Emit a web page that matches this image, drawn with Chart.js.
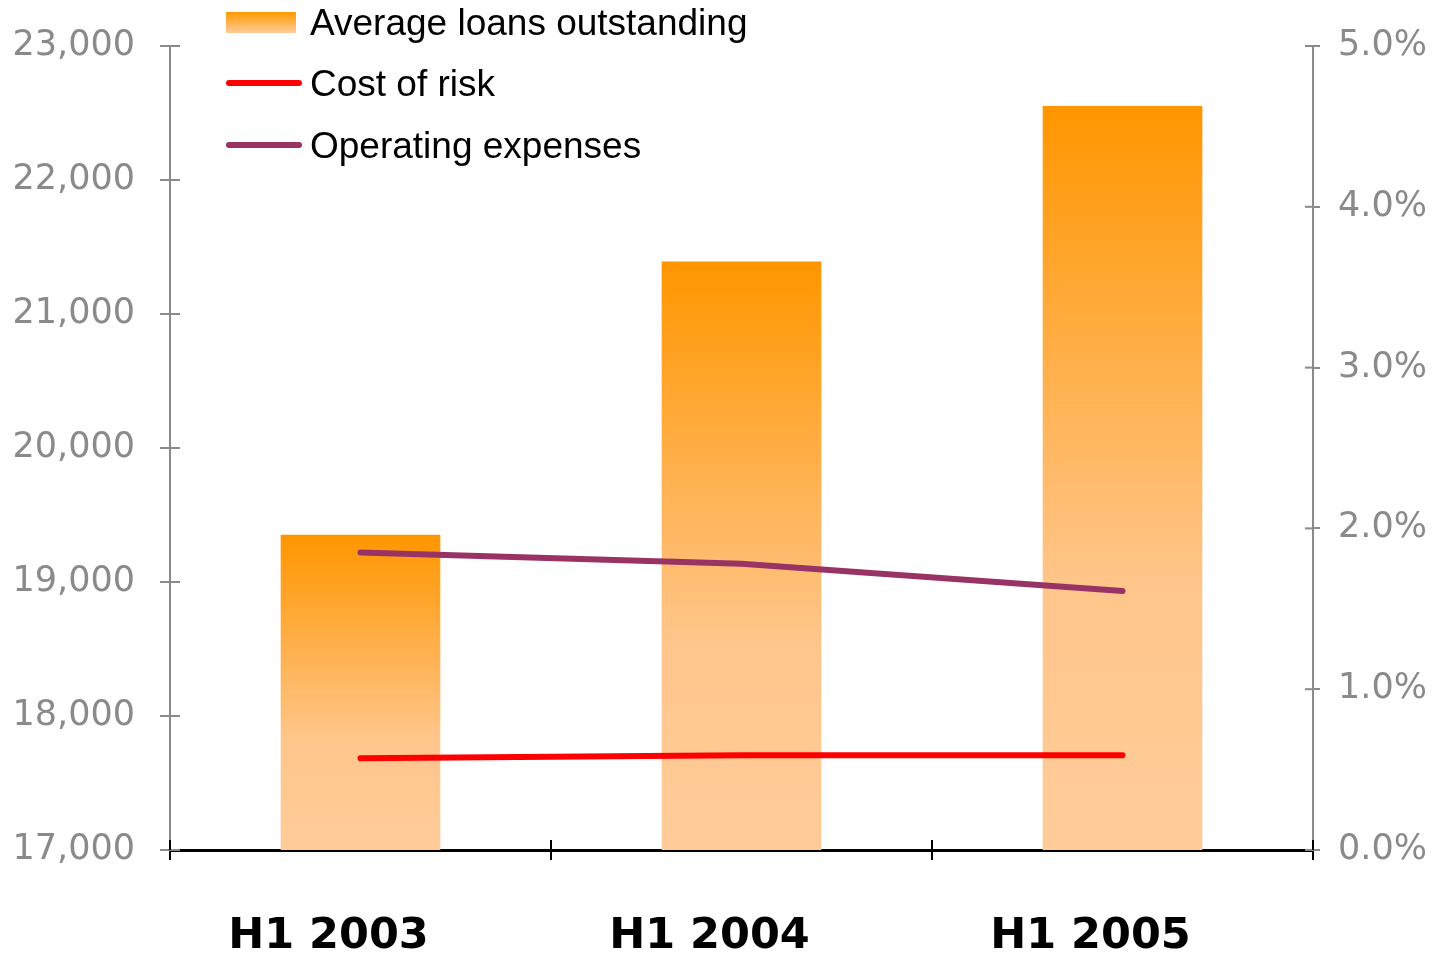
<!DOCTYPE html>
<html>
<head>
<meta charset="utf-8">
<script src="https://cdn.jsdelivr.net/npm/chart.js@4/dist/chart.umd.min.js"></script>
<style>
  body { margin: 0; background: #fff; }
  #wrap { position: relative; width: 1437px; height: 955px; }
  .leg { position: absolute; left: 226px; height: 44px; line-height: 44px;
         font-family: "Liberation Sans", Arial, sans-serif; font-size: 37px; color: #000; white-space: nowrap; }
  .leg .sw { position: absolute; left: 0; }
  .leg span.t { position: absolute; left: 84px; top: 0; }
</style>
</head>
<body>
<div id="wrap">
  <canvas id="grafico"></canvas>
  <div class="leg" style="top:1px">
    <div class="sw" style="top:11px;width:70px;height:21px;background:linear-gradient(#ff9900,#ffcc99);"></div>
    <span class="t">Average loans outstanding</span>
  </div>
  <div class="leg" style="top:62px">
    <div class="sw" style="top:18px;width:76px;height:6px;border-radius:3px;background:#ff0000;"></div>
    <span class="t">Cost of risk</span>
  </div>
  <div class="leg" style="top:124px">
    <div class="sw" style="top:18px;width:76px;height:6px;border-radius:3px;background:#993366;"></div>
    <span class="t">Operating expenses</span>
  </div>
</div>
<script>
const categorias = ["H1 2003", "H1 2004", "H1 2005"];
const emprestimos = [19350, 21390, 22550];
const custoRisco = [0.57, 0.59, 0.59];
const despesas = [1.85, 1.78, 1.61];

const cinza = "#8a8a8a";

// meia marca de escala para dentro da área do gráfico
const marcasCruzadas = {
    id: "marcasCruzadas",
    afterDraw(chart) {
        const ctx = chart.ctx;
        const a = chart.chartArea;
        const y = chart.scales.y, yR = chart.scales.yR;
        ctx.save();
        ctx.lineWidth = 2;
        ctx.strokeStyle = cinza;
        y.ticks.forEach((t, i) => {
            const p = y.getPixelForTick(i);
            ctx.beginPath(); ctx.moveTo(a.left, p); ctx.lineTo(a.left + 10, p); ctx.stroke();
        });
        yR.ticks.forEach((t, i) => {
            const p = yR.getPixelForTick(i);
            ctx.beginPath(); ctx.moveTo(a.right - 8, p); ctx.lineTo(a.right, p); ctx.stroke();
        });
        ctx.strokeStyle = "#000";
        const passo = (a.right - a.left) / categorias.length;
        for (let i = 0; i <= categorias.length; i++) {
            const p = a.left + passo * i;
            ctx.beginPath(); ctx.moveTo(p, a.bottom); ctx.lineTo(p, a.bottom - 10); ctx.stroke();
        }
        ctx.restore();
    }
};

function gradienteBarra(context) {
    const chart = context.chart;
    if (!chart.chartArea || context.dataIndex === undefined) return "#ffb366";
    const esc = chart.scales.y;
    const topo = esc.getPixelForValue(emprestimos[context.dataIndex]);
    const base = esc.getPixelForValue(esc.min);
    const g = chart.ctx.createLinearGradient(0, topo, 0, base);
    g.addColorStop(0, "#ff9600");
    g.addColorStop(0.65, "#ffc68c");
    g.addColorStop(1, "#ffcc99");
    return g;
}

new Chart(document.getElementById("grafico"), {
    type: "bar",
    data: {
        labels: categorias,
        datasets: [
            {
                type: "line",
                label: "Cost of risk",
                data: custoRisco,
                yAxisID: "yR",
                borderColor: "#ff0000",
                borderWidth: 6,
                borderCapStyle: "round",
                pointRadius: 0,
                tension: 0,
                order: 1
            },
            {
                type: "line",
                label: "Operating expenses",
                data: despesas,
                yAxisID: "yR",
                borderColor: "#993366",
                borderWidth: 6,
                borderCapStyle: "round",
                pointRadius: 0,
                tension: 0,
                order: 1
            },
            {
                label: "Average loans outstanding",
                data: emprestimos,
                yAxisID: "y",
                backgroundColor: gradienteBarra,
                barThickness: 159,
                order: 2
            }
        ]
    },
    options: {
        responsive: true,
        maintainAspectRatio: false,
        animation: false,
        layout: { padding: { top: 42, left: 0, right: 0, bottom: 0 } },
        plugins: {
            legend: { display: false },
            tooltip: { enabled: false }
        },
        scales: {
            x: {
                offset: true,
                grid: { offset: true, drawOnChartArea: false, color: "#000", lineWidth: 2, tickLength: 10 },
                border: { color: "#000", width: 3 },
                ticks: {
                    color: "#000",
                    padding: 51,
                    labelOffset: -32,
                    font: { family: "DejaVu Sans", size: 43, weight: "bold" }
                },
                afterFit(s) { s.height = 105; }
            },
            y: {
                position: "left",
                min: 17000,
                max: 23000,
                grid: { drawOnChartArea: false, color: cinza, lineWidth: 2, tickLength: 10 },
                border: { color: cinza, width: 2 },
                ticks: {
                    stepSize: 1000,
                    color: cinza,
                    padding: 25,
                    font: { family: "DejaVu Sans", size: 35 },
                    callback: v => v.toLocaleString("en-US")
                },
                afterFit(s) { s.width = 170; }
            },
            yR: {
                position: "right",
                min: 0,
                max: 5,
                grid: { drawOnChartArea: false, color: cinza, lineWidth: 2, tickLength: 7 },
                border: { color: cinza, width: 2 },
                ticks: {
                    stepSize: 1,
                    color: cinza,
                    padding: 18,
                    font: { family: "DejaVu Sans", size: 35 },
                    callback: v => v.toFixed(1) + "%"
                },
                afterFit(s) { s.width = 124; }
            }
        }
    },
    plugins: [marcasCruzadas]
});
</script>
</body>
</html>
